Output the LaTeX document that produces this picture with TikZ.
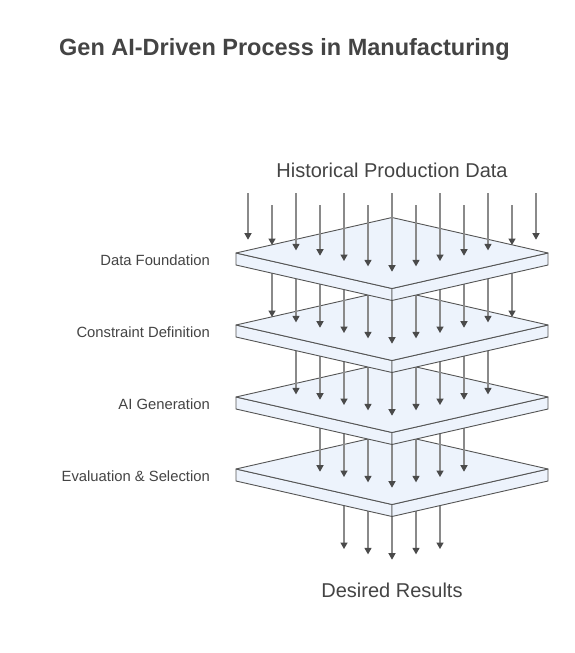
\documentclass[tikz,border=0pt]{standalone}
\usepackage{fontspec}
\setmainfont{Liberation Sans}
\usetikzlibrary{arrows.meta}
\definecolor{txt}{HTML}{444444}
\definecolor{slabfill}{HTML}{EDF3FC}
\definecolor{slabline}{HTML}{555555}
\definecolor{shaft}{HTML}{8A8A8A}
\definecolor{tipc}{HTML}{4A4A4A}
\tikzset{
  flow/.style={draw=shaft, line width=1.3pt, -{Triangle[width=7pt,length=6.5pt,color=tipc]}},
  slabface/.style={fill=slabfill, draw=slabline, line width=0.9pt, line join=round},
  lbl/.style={text=txt, font=\fontsize{14.8}{17}\selectfont, anchor=east, inner sep=0pt},
  big/.style={text=txt, font=\fontsize{20}{24}\selectfont, inner sep=0pt},
}
\newcommand{\drawslab}[1]{%
  \path[slabface] (236,#1) -- (392,#1+35.5) -- (392,#1+47.5) -- (236,#1+12) -- cycle;
  \path[slabface] (548,#1) -- (392,#1+35.5) -- (392,#1+47.5) -- (548,#1+12) -- cycle;
  \path[slabface] (236,#1) -- (392,#1-35.5) -- (548,#1) -- (392,#1+35.5) -- cycle;
}
\begin{document}
\begin{tikzpicture}[x=1pt,y=-1pt]
\useasboundingbox (0,0) rectangle (574,653);
\fill[white] (0,0) rectangle (574,653);
% title
\node[text=txt, font=\bfseries\fontsize{23.5}{28}\selectfont, anchor=west, inner sep=0pt] (title) at (59,49) {Gen AI-Driven Process in Manufacturing};
% layers drawn bottom-up with arrows in between
\foreach \j in {4,3,2,1}{
  \pgfmathtruncatemacro{\n}{6-\j}
  \pgfmathsetmacro{\ystart}{253+72*(\j-1)}
  \foreach \k in {-\n,...,\n}{
    \pgfmathsetmacro{\yend}{271.7+72*\j-5.33*abs(\k)}
    \coordinate (s\j n\k) at (392+24*\k,\ystart);
    \coordinate (e\j n\k) at (392+24*\k,\yend);
    \draw[flow] (s\j n\k) -- (e\j n\k);
  }
  \pgfmathsetmacro{\cy}{253+72*(\j-1)}
  \drawslab{\cy}
}
% top arrows
\foreach \k in {-6,...,6}{
  \pgfmathsetmacro{\ys}{isodd(\k) ? 205 : 193}
  \pgfmathsetmacro{\ye}{271.7-5.33*abs(\k)}
  \coordinate (ts\k) at (392+24*\k,\ys);
  \coordinate (te\k) at (392+24*\k,\ye);
  \draw[flow] (ts\k) -- (te\k);
}
\node[big] (hist) at (392,170) {Historical Production Data};
\node[big] (des) at (392,590) {Desired Results};
\node[lbl] (l1) at (210,260) {Data Foundation};
\node[lbl] (l2) at (210,332) {Constraint Definition};
\node[lbl] (l3) at (210,404) {AI Generation};
\node[lbl] (l4) at (210,476) {Evaluation \& Selection};
\end{tikzpicture}
\end{document}
